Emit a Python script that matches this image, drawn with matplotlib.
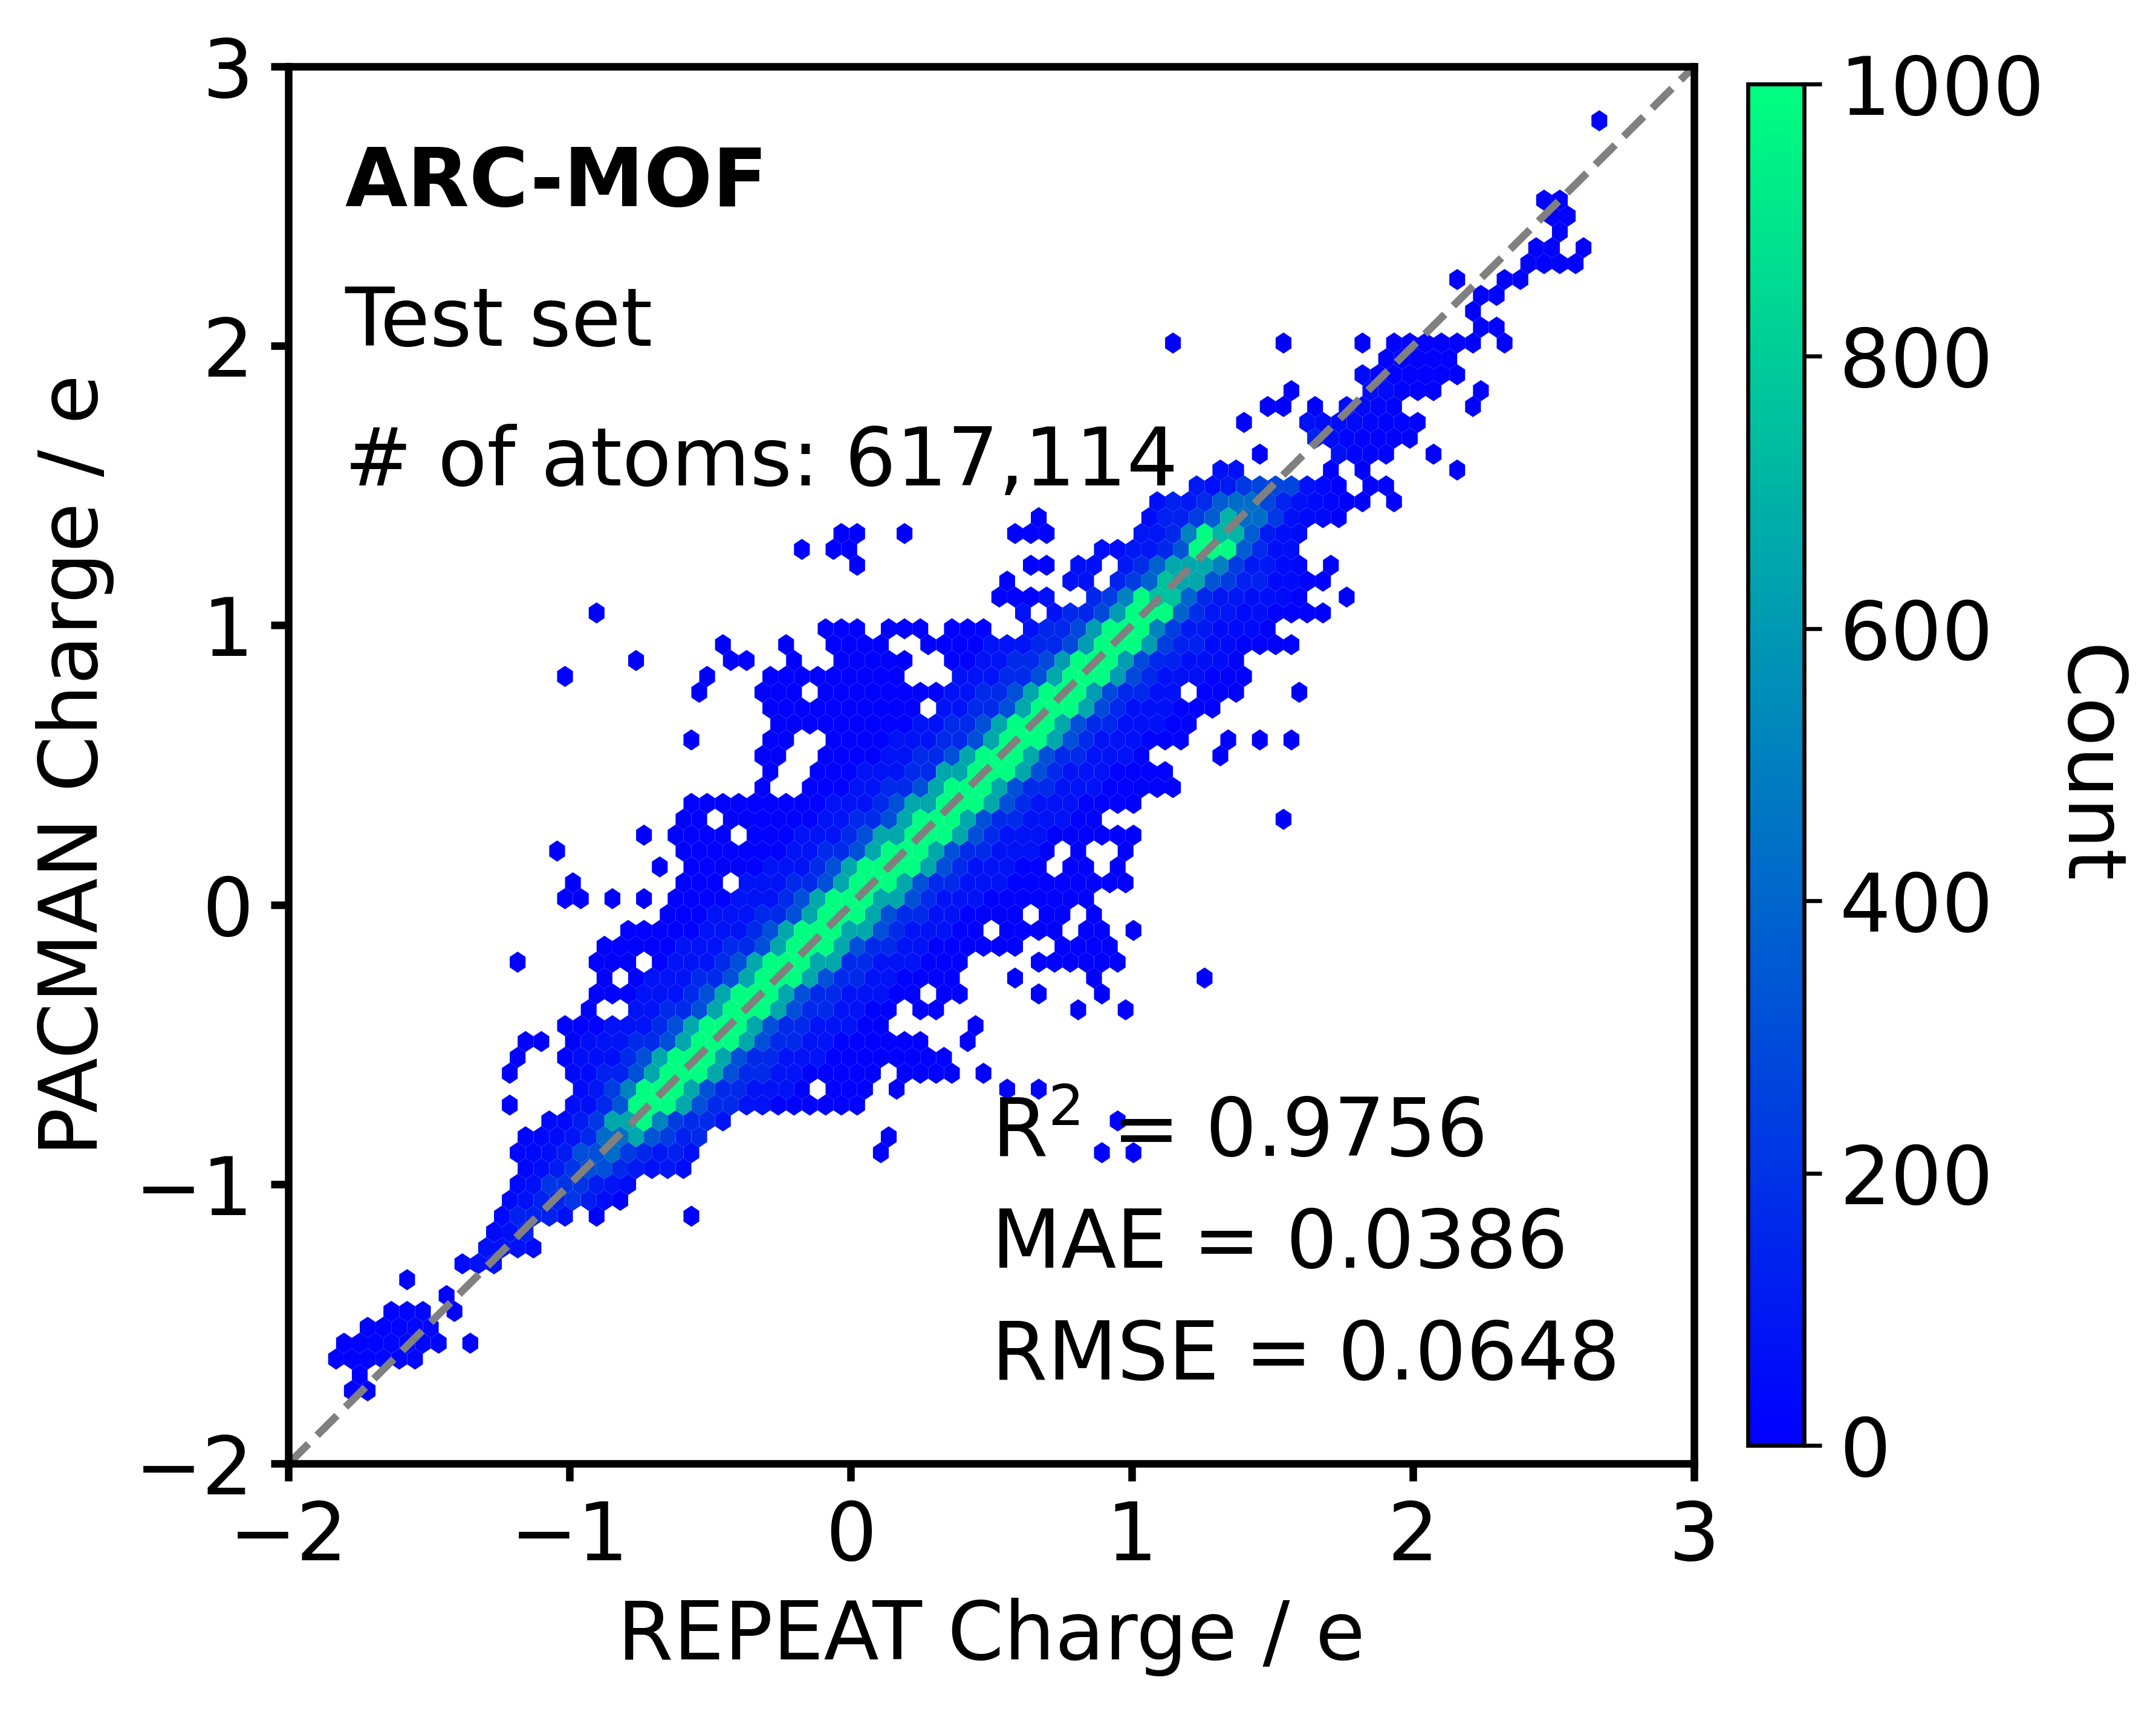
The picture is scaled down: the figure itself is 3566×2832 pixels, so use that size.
import numpy as np
import matplotlib
matplotlib.use("Agg")
import matplotlib.pyplot as plt

plt.rcParams["font.family"] = ["DejaVu Sans"]
plt.rcParams["font.size"] = 16

# ---------------- chart values ----------------
x_ticks = [-2, -1, 0, 1, 2, 3]
y_ticks = [-2, -1, 0, 1, 2, 3]
cbar_ticks = [0, 200, 400, 600, 800, 1000]
count_max = 1000

hex_gridsize = (89, 44)
hex_extent = (-2.0, 3.0, -1.967, 3.033)

# occupied hexes of the main cloud, row by row: row y, first x, last x
run_y = [-1.740, -1.683, -1.626, -1.569, -1.512, -1.456,
         -1.285, -1.228, -1.172, -1.115, -1.058, -1.001, -0.944, -0.887,
         -0.831, -0.774, -0.717, -0.660, -0.660, -0.603, -0.603,
         -0.547, -0.547, -0.490, -0.433, -0.376, -0.376, -0.319, -0.262,
         -0.206, -0.206, -0.149, -0.149, -0.092, -0.035, 0.022, 0.079,
         0.136, 0.192, 0.249, 0.306, 0.363, 0.420, 0.420, 0.476,
         0.533, 0.533, 0.590, 0.590, 0.647, 0.647, 0.704, 0.760,
         0.817, 0.817, 0.817, 0.874, 0.874, 0.874, 0.931, 0.931,
         0.988, 0.988, 0.988, 0.988, 1.044, 1.044, 1.101, 1.101, 1.101,
         1.158, 1.158, 1.158, 1.215, 1.215, 1.215, 1.272, 1.272,
         1.329, 1.329, 1.385, 1.442, 1.499, 1.499, 1.556, 1.613, 1.613,
         1.669, 1.726, 1.783, 1.840, 1.897, 1.954, 2.010, 2.010, 2.067,
         2.181, 2.238, 2.294, 2.351, 2.408, 2.465, 2.522]
run_x0 = [-1.77, -1.74, -1.82, -1.80, -1.71, -1.63,
          -1.40, -1.29, -1.26, -1.24, -1.23, -1.205, -1.173, -1.197,
          -1.149, -1.093, -1.004, -0.98, 0.166, -1.004, 0.196,
          -1.036, 0.22, -1.012, -1.036, -0.956, 0.252, -0.924, -0.892,
          -0.924, 0.673, -0.876, 0.76, -0.812, -0.651, -0.62, -0.587,
          -0.555, -0.587, -0.611, -0.59, -0.59, -0.34, -0.15, -0.10,
          -0.33, -0.07, -0.31, -0.08, -0.28, -0.12, -0.31, -0.32,
          -0.31, 0.36, 0.47, -0.42, -0.03, 0.36, -0.05, 0.25,
          -0.08, 0.14, 0.36, 0.65, 0.59, 0.72, 0.50, 0.62, 0.85,
          0.53, 0.76, 0.93, 0.62, 0.79, 0.96, 0.88, 1.04,
          0.56, 1.01, 1.046, 1.07, 1.21, 1.849, 1.295, 1.712, 1.825,
          1.656, 1.624, 1.768, 1.873, 1.825, 1.881, 1.929, 2.106, 2.218,
          2.242, 2.33, 2.387, 2.443, 2.50, 2.50, 2.467]
run_x1 = [-1.71, -1.74, -1.575, -1.49, -1.49, -1.52,
          -1.29, -1.125, -1.15, -1.01, -0.876, -0.81, -0.587, -0.587,
          -0.539, -0.45, 0.03, 0.06, 0.166, 0.06, 0.366,
          0.14, 0.337, 0.252, 0.111, 0.141, 0.307, 0.392, 0.366,
          0.392, 0.953, 0.588, 0.928, 0.898, 0.868, 0.843, 0.843,
          0.813, 0.813, 0.868, 0.86, 0.94, -0.30, 1.15, 1.09,
          -0.28, 1.04, -0.25, 1.20, -0.20, 1.185, 1.31, 1.39,
          0.17, 0.40, 1.38, -0.36, 0.14, 1.39, 0.12, 1.54,
          0.03, 0.27, 0.49, 1.50, 0.64, 1.60, 0.58, 0.67, 1.575,
          0.58, 0.82, 1.60, 0.70, 0.84, 1.60, 0.98, 1.57,
          0.72, 1.62, 1.69, 1.69, 1.66, 1.913, 1.343, 1.768, 1.881,
          1.993, 2.017, 1.953, 1.993, 2.13, 2.106, 2.017, 2.226, 2.274,
          2.306, 2.41, 2.555, 2.50, 2.523, 2.555, 2.523]

# isolated hexes (outliers)
dot_x = [-1.35, -1.405, -1.43, -1.575, -0.90, -0.563, -0.81,
         0.111, 0.898, 1.009, 0.141, 0.954, -1.205, 0.562, 0.673,
         -1.205, 0.477, -1.18, -1.15, -1.09, 0.418, 0.447,
         0.813, 0.983, 0.673, 0.898, 0.588, 0.868, 1.264, -1.18, 1.009,
         -1.01, -0.956, -0.844, -0.73, -0.985, 0.928, 0.983,
         -0.675, 0.954, -1.04, 0.983, -0.73, 0.954, 1.009,
         1.55, 1.01, -0.31, 1.32, -0.562, 1.345, 1.457, 1.57,
         -0.53, 1.60, -0.51, -1.02, -0.20, 0.20, -0.76,
         -0.45, -0.23, -0.90, 1.685, 1.768, 1.688,
         0.03, 1.712, -0.17, -0.05, 0.00, -0.026, 0.03, 0.194, 0.674, 1.74,
         1.745, 1.825, 1.937, 1.736, 1.712, 1.825, 2.162, 1.459, 2.074,
         1.40, 1.487, 1.543, 1.656, 2.218, 1.568, 2.082, 2.242,
         1.150, 1.544, 1.825, 2.33, 2.218, 2.162, 2.611, 2.668]
dot_y = [-1.569, -1.456, -1.399, -1.342, -1.115, -1.115, -1.058,
         -0.887, -0.887, -0.887, -0.831, -0.774, -0.717, -0.660, -0.660,
         -0.603, -0.603, -0.547, -0.490, -0.490, -0.490, -0.433,
         -0.376, -0.376, -0.319, -0.319, -0.262, -0.262, -0.262, -0.206, -0.092,
         0.022, 0.022, 0.022, 0.022, 0.079, 0.079, 0.079,
         0.136, 0.136, 0.192, 0.192, 0.249, 0.249, 0.249,
         0.306, 0.363, 0.476, 0.533, 0.590, 0.590, 0.590, 0.590,
         0.760, 0.760, 0.817, 0.817, 0.874, 0.874, 0.874,
         0.931, 0.931, 1.044, 1.044, 1.101, 1.158,
         1.215, 1.215, 1.272, 1.272, 1.272, 1.329, 1.329, 1.329, 1.385, 1.385,
         1.442, 1.442, 1.442, 1.499, 1.556, 1.556, 1.556, 1.613, 1.613,
         1.726, 1.783, 1.783, 1.783, 1.783, 1.840, 1.840, 1.840,
         2.010, 2.010, 2.010, 2.010, 2.124, 2.238, 2.351, 2.806]

# empty cells inside the cloud
hole_x = [-0.113, -0.81, -0.731, -0.868, -0.812, -0.426, -0.49, -0.394,
          0.272, 0.497, 0.758, 0.728, 0.647, 0.783, 0.783, 0.277, 1.21, -0.14]
hole_y = [-0.660, -0.262, -0.206, -0.376, -0.376, 0.079, 0.306, 0.249,
          -0.319, -0.092, 0.192, 0.136, -0.035, -0.035, -0.092, 0.704, 0.760, 0.760]

# counts along the diagonal (position along y = x) ...
core_s = [-1.9, -1.45, -1.25, -1.1, -1.0, -0.9, -0.84, -0.79, -0.74, -0.65,
          0.0, 0.6, 0.95, 1.05, 1.12, 1.2, 1.28, 1.34, 1.42, 1.5, 1.6, 1.75, 2.0]
core_peak = [0, 20, 60, 120, 200, 300, 420, 650, 1000, 1300,
             1300, 1300, 1200, 1000, 750, 650, 1000, 700, 420, 260, 120, 40, 0]
# ... and their fall-off with distance |y - x| from it
band_d = [0.085, 0.145, 0.20, 0.30, 0.45]
band_frac = [1.0, 0.50, 0.23, 0.12, 0.05]
base_count = 10
dot_count = 2

# ---------------- hexagon lattice ----------------
nx, ny = hex_gridsize
xmin, xmax, ymin, ymax = hex_extent
sx = (xmax - xmin) / nx
sy = (ymax - ymin) / ny
hy = sy / 2.0

ii, jj = np.meshgrid(np.arange(nx + 1), np.arange(ny + 1))
l1x = xmin + ii.ravel() * sx
l1y = ymin + jj.ravel() * sy
ii, jj = np.meshgrid(np.arange(nx), np.arange(ny))
l2x = xmin + (ii.ravel() + 0.5) * sx
l2y = ymin + (jj.ravel() + 0.5) * sy
cx = np.concatenate([l1x, l2x])
cy = np.concatenate([l1y, l2y])
crow = np.rint((cy - ymin) / hy).astype(int)


def row_of(y):
    return int(np.rint((y - ymin) / hy))


def nearest_in_row(x, y):
    idx = np.flatnonzero(crow == row_of(y))
    return idx[np.argmin(np.abs(cx[idx] - x))]


body = np.zeros(cx.size, bool)
for y, a, b in zip(run_y, run_x0, run_x1):
    sel = (crow == row_of(y)) & (cx >= a - 0.5 * sx) & (cx <= b + 0.5 * sx)
    if a == b or not sel.any():
        sel = np.zeros(cx.size, bool)
        sel[nearest_in_row(0.5 * (a + b), y)] = True
    body |= sel

for x, y in zip(hole_x, hole_y):
    body[nearest_in_row(x, y)] = False

dots = np.zeros(cx.size, bool)
for x, y in zip(dot_x, dot_y):
    dots[nearest_in_row(x, y)] = True

s_pos = 0.5 * (cx + cy)
dist = np.abs(cy - cx)
station = np.abs(s_pos[:, None] - np.asarray(core_s)[None, :]).argmin(axis=1)
peak = np.asarray(core_peak, float)[station]
frac = np.append(np.asarray(band_frac, float), 0.0)[np.searchsorted(band_d, dist)]
counts = np.where(body, base_count + peak * frac, 0.0)
counts = np.where(dots & ~body, dot_count, counts)
show = body | dots

# ---------------- figure ----------------
fig = plt.figure(figsize=(3566 / 600, 2832 / 600), dpi=600)
ax = fig.add_axes([0.13390, 0.14513, 0.65185, 0.81603])
cax = fig.add_axes([0.81060, 0.15572, 0.02619, 0.79537])

hb = ax.hexbin(cx[show], cy[show], C=counts[show], reduce_C_function=np.sum,
               gridsize=hex_gridsize, extent=hex_extent, cmap="winter",
               vmin=0, vmax=count_max, linewidths=0)
ax.plot([x_ticks[0], x_ticks[-1]], [y_ticks[0], y_ticks[-1]], "--",
        color="gray", lw=1.5)

ax.set_xlim(x_ticks[0], x_ticks[-1])
ax.set_ylim(y_ticks[0], y_ticks[-1])
ax.set_xticks(x_ticks)
ax.set_yticks(y_ticks)
for sp in ax.spines.values():
    sp.set_linewidth(1.5)
ax.tick_params(width=1.5, length=3.5)
ax.set_xlabel("REPEAT Charge / e")
ax.set_ylabel("PACMAN Charge / e")

ax.text(-1.8, 2.5, "ARC-MOF", fontweight="bold")
ax.text(-1.8, 2.0, "Test set")
ax.text(-1.8, 1.5, "# of atoms: 617,114")
ax.text(0.5, -0.9, r"R$^2$ = 0.9756")
ax.text(0.5, -1.3, "MAE = 0.0386")
ax.text(0.5, -1.7, "RMSE = 0.0648")

cb = fig.colorbar(hb, cax=cax, ticks=cbar_ticks)
cb.set_label("Count", rotation=270, labelpad=16)

fig.savefig("out.png", dpi=600)
